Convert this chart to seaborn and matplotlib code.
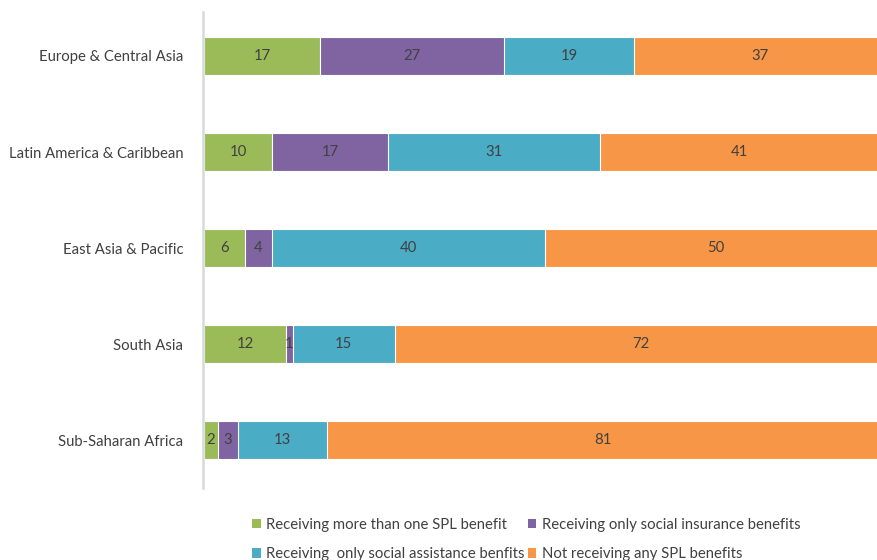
import matplotlib
matplotlib.use("Agg")
import matplotlib.pyplot as plt
from matplotlib.patches import Patch
import seaborn as sns
import pandas as pd
import numpy as np

regions = ["Europe & Central Asia", "Latin America & Caribbean", "East Asia & Pacific",
           "South Asia", "Sub-Saharan Africa"]
more_than_one = [17, 10, 6, 12, 2]
only_insurance = [27, 17, 4, 1, 3]
only_assistance = [19, 31, 40, 15, 13]
not_receiving = [37, 41, 50, 72, 81]

series_names = ["Receiving more than one SPL benefit",
                "Receiving only social insurance benefits",
                "Receiving  only social assistance benfits",
                "Not receiving any SPL benefits"]
series_values = [more_than_one, only_insurance, only_assistance, not_receiving]
colors = ["#9BBB59", "#8064A2", "#4BACC6", "#F79646"]

sns.set_theme(style="white")
plt.rcParams["font.family"] = ["Lato", "DejaVu Sans"]

fig = plt.figure(figsize=(8.78, 5.6), dpi=100)
ax = fig.add_axes([204 / 878, 1 - 488 / 560, 682 / 878, 480 / 560])

vals = np.array(series_values, dtype=float)
cum = np.cumsum(vals, axis=0)

# Stack by overlaying cumulative totals, widest first
for i in range(len(series_names) - 1, -1, -1):
    df = pd.DataFrame({"region": regions, "total": cum[i]})
    sns.barplot(data=df, x="total", y="region", order=regions, orient="h",
                color=colors[i], saturation=1, width=0.4, edgecolor="white",
                linewidth=0.8, ax=ax)

# Segment value labels
for i in range(len(series_names)):
    starts = cum[i] - vals[i]
    for j, v in enumerate(vals[i]):
        ax.text(starts[j] + v / 2, j, f"{int(v)}", ha="center", va="center",
                fontsize=10.7, color="#404040")

ax.set_xlim(0, 100)
ax.set_ylim(4.5, -0.5)
ax.set_xlabel("")
ax.set_ylabel("")
ax.set_xticks([])
ax.tick_params(axis="y", length=0, pad=14, labelsize=10.7, labelcolor="#404040")
for s in ["top", "right", "bottom"]:
    ax.spines[s].set_visible(False)
ax.spines["left"].set_color("#D9D9D9")
ax.spines["left"].set_linewidth(1.8)
ax.spines["left"].set_bounds(4.5, -0.5 + 4 / 96)
ax.spines["left"].set_position(("outward", 1))

handles = [Patch(facecolor=c, edgecolor="none") for c in colors]
order = [0, 2, 1, 3]
fig.legend([handles[k] for k in order], [series_names[k] for k in order],
           ncol=2, loc="lower left", bbox_to_anchor=(246 / 878, -0.013),
           frameon=False, fontsize=10.7, labelcolor="#404040",
           handlelength=0.6, handleheight=0.6, handletextpad=0.35,
           columnspacing=0.2, labelspacing=1.05, borderaxespad=0.0)

fig.savefig("out.png", dpi=100)
